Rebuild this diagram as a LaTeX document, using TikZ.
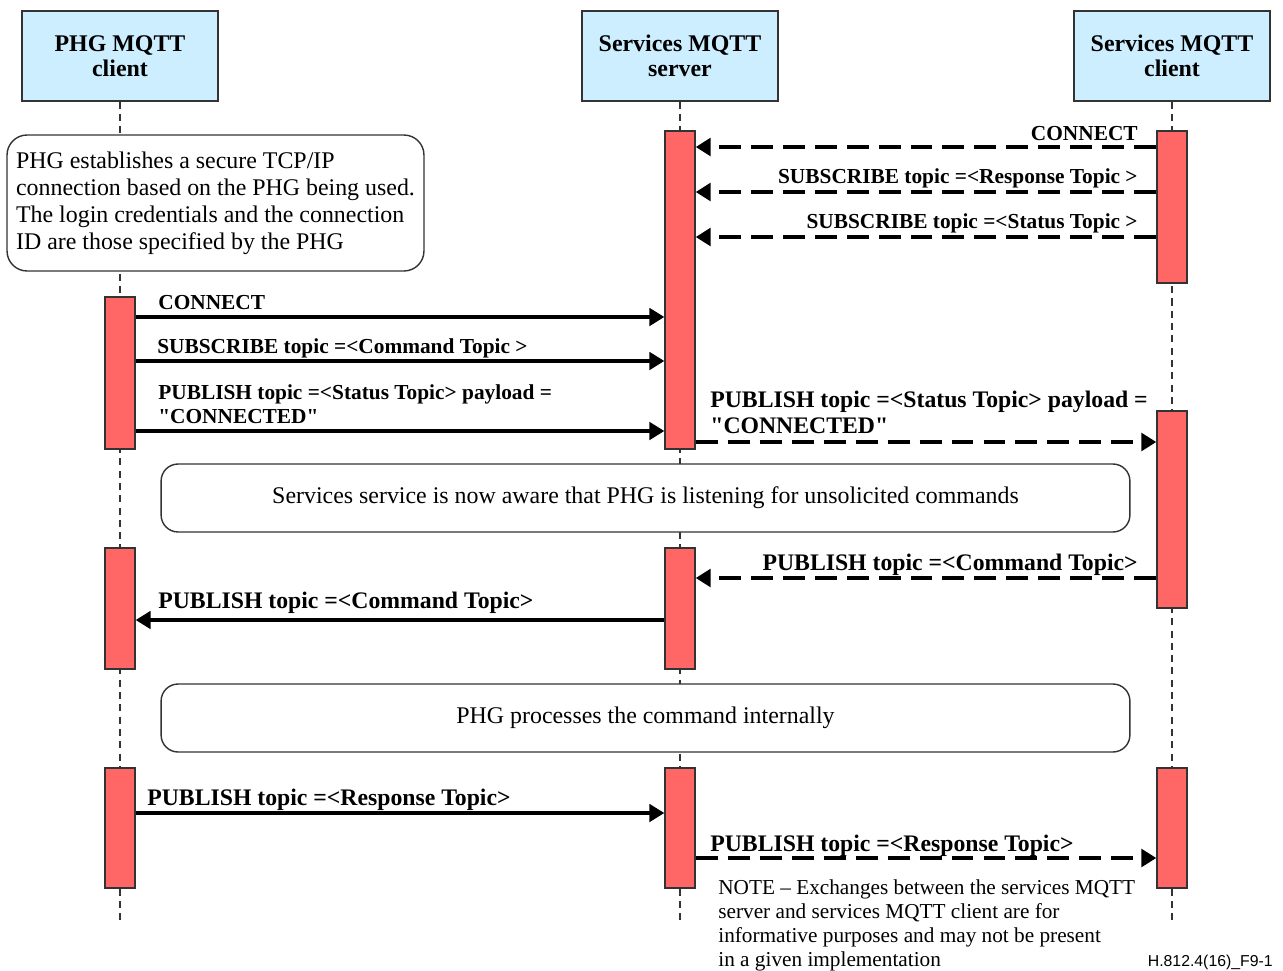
\documentclass[tikz,border=0pt]{standalone}
\usepackage{fontspec}
\setmainfont{Liberation Serif}
\newfontfamily\idfont{Liberation Sans}
\usetikzlibrary{arrows.meta}
\definecolor{hdrblue}{HTML}{CCEEFF}
\definecolor{barred}{HTML}{FF6666}
\definecolor{edgegray}{HTML}{333333}
\tikzset{
  hdr/.style={draw=edgegray, fill=hdrblue, line width=0.8pt, minimum width=3.92cm, minimum height=1.8cm, inner sep=0pt, align=center, font=\fontsize{13.6}{14.4}\selectfont\bfseries},
  actbar/.style={draw=edgegray, fill=barred, line width=0.8pt, minimum width=0.6cm, inner sep=0pt},
  life/.style={draw=edgegray, line width=0.6pt, dash pattern=on 4pt off 3pt},
  msg/.style={line width=1.8pt, -{Triangle[length=8.5pt,width=10pt]}},
  dmsg/.style={line width=2.2pt, dash pattern=on 12.5pt off 5.7pt, -{Triangle[length=8.5pt,width=10pt]}},
  lab/.style={inner sep=0pt, font=\fontsize{12.15}{13}\selectfont\bfseries},
  blab/.style={inner sep=0pt, font=\fontsize{13.5}{14.7}\selectfont\bfseries},
  notetxt/.style={inner sep=0pt, anchor=base west, font=\fontsize{12.1}{13.6}\selectfont},
  notebox/.style={draw=edgegray, fill=white, line width=0.8pt, inner sep=0pt, font=\fontsize{13.6}{15.3}\selectfont},
}
\newcommand{\qq}{\textquotedbl}
\begin{document}
\begin{tikzpicture}[x=0.02cm, y=-0.02cm]
\useasboundingbox (0,0) rectangle (1283,970);
% headers
\node[hdr] (h1) at (120,56) {PHG MQTT\\client};
\node[hdr] (h2) at (680,56) {Services MQTT\\server};
\node[hdr] (h3) at (1172,56) {Services MQTT\\client};
% lifeline ends
\coordinate (e1) at (120,925);
\coordinate (e2) at (680,925);
\coordinate (e3) at (1172,925);
\draw[life] (h1.south) -- (e1);
\draw[life] (h2.south) -- (e2);
\draw[life] (h3.south) -- (e3);
% note boxes
\node[notebox, rounded corners=0.4cm, minimum width=8.34cm, minimum height=2.72cm, align=left] (n0) at (215.5,203)
  {PHG establishes a secure TCP/IP\\connection based on the PHG being used.\\The login credentials and the connection\\ID are those specified by the PHG};
\node[notebox, rounded corners=0.34cm, minimum width=19.38cm, minimum height=1.36cm] (n1) at (645.5,498)
  {Services service is now aware that PHG is listening for unsolicited commands};
\node[notebox, rounded corners=0.34cm, minimum width=19.38cm, minimum height=1.36cm] (n2) at (645.5,718)
  {PHG processes the command internally};
% activation bars
\node[actbar, minimum height=6.36cm] (s1) at (680,290) {};
\node[actbar, minimum height=3.04cm] (c1) at (1172,207) {};
\node[actbar, minimum height=3.04cm] (p1) at (120,373) {};
\node[actbar, minimum height=3.94cm] (c2) at (1172,509.5) {};
\node[actbar, minimum height=2.42cm] (p2) at (120,608.5) {};
\node[actbar, minimum height=2.42cm] (s2) at (680,608.5) {};
\node[actbar, minimum height=2.40cm] (p3) at (120,828) {};
\node[actbar, minimum height=2.40cm] (s3) at (680,828) {};
\node[actbar, minimum height=2.40cm] (c3) at (1172,828) {};
% message levels
\coordinate (m1) at (0,147);
\coordinate (m2) at (0,192);
\coordinate (m3) at (0,237);
\coordinate (m4) at (0,317);
\coordinate (m5) at (0,361);
\coordinate (m6) at (0,431);
\coordinate (m7) at (0,442);
\coordinate (m8) at (0,578);
\coordinate (m9) at (0,620);
\coordinate (m10) at (0,813);
\coordinate (m11) at (0,858);
% messages
\draw[dmsg] (c1.west |- m1) -- (s1.east |- m1);
\draw[dmsg] (c1.west |- m2) -- (s1.east |- m2);
\draw[dmsg] (c1.west |- m3) -- (s1.east |- m3);
\draw[msg] (p1.east |- m4) -- (s1.west |- m4);
\draw[msg] (p1.east |- m5) -- (s1.west |- m5);
\draw[msg] (p1.east |- m6) -- (s1.west |- m6);
\draw[dmsg] (s1.east |- m7) -- (c2.west |- m7);
\draw[dmsg] (c2.west |- m8) -- (s2.east |- m8);
\draw[msg] (s2.west |- m9) -- (p2.east |- m9);
\draw[msg] (p3.east |- m10) -- (s3.west |- m10);
\draw[dmsg] (s3.east |- m11) -- (c3.west |- m11);
% labels
\node[lab, anchor=base east] (l1) at (1138,140) {CONNECT};
\node[lab, anchor=base east] (l2) at (1138,183) {SUBSCRIBE topic =<Response Topic >};
\node[lab, anchor=base east] (l3) at (1138,228) {SUBSCRIBE topic =<Status Topic >};
\node[lab, anchor=base west] (l4) at (158,309) {CONNECT};
\node[lab, anchor=base west] (l5) at (157,353) {SUBSCRIBE topic =<Command Topic >};
\node[lab, anchor=base west] (l6a) at (158,399) {PUBLISH topic =<Status Topic> payload =};
\node[lab, anchor=base west] (l6b) at (158,423) {\qq CONNECTED\qq};
\node[blab, anchor=base west] (l7a) at (710,407) {PUBLISH topic =<Status Topic> payload =};
\node[blab, anchor=base west] (l7b) at (710,433) {\qq CONNECTED\qq};
\node[blab, anchor=base east] (l8) at (1138,570) {PUBLISH topic =<Command Topic>};
\node[blab, anchor=base west] (l9) at (158,608) {PUBLISH topic =<Command Topic>};
\node[blab, anchor=base west] (l10) at (147,805) {PUBLISH topic =<Response Topic>};
\node[blab, anchor=base west] (l11) at (710,851) {PUBLISH topic =<Response Topic>};
% note
\node[notetxt] (nt1) at (718,894) {NOTE -- Exchanges between the services MQTT};
\node[notetxt] (nt2) at (718,918) {server and services MQTT client are for};
\node[notetxt] (nt3) at (718,942) {informative purposes and may not be present};
\node[notetxt] (nt4) at (718,966) {in a given implementation};
\node[inner sep=0pt, anchor=base east, font=\idfont\fontsize{9}{10}\selectfont] (fid) at (1273,966) {H.812.4(16)\_F9-1};
\end{tikzpicture}
\end{document}
